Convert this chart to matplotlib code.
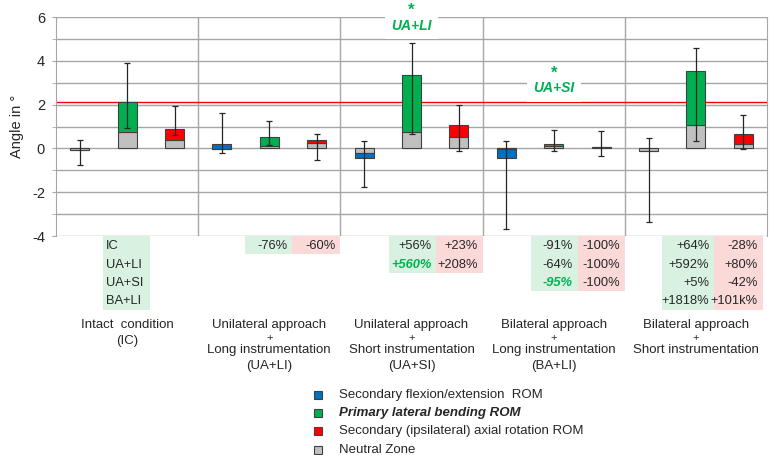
import numpy as np
import matplotlib.pyplot as plt
from matplotlib.patches import Rectangle
from matplotlib.transforms import blended_transform_factory

plt.rcParams['font.family'] = ['Liberation Sans', 'DejaVu Sans']
plt.rcParams['axes.unicode_minus'] = False

group_lines = [
    ['Intact  condition', '(IC)'],
    ['Unilateral approach', '+', 'Long instrumentation', '(UA+LI)'],
    ['Unilateral approach', '+', 'Short instrumentation', '(UA+SI)'],
    ['Bilateral approach', '+', 'Long instrumentation', '(BA+LI)'],
    ['Bilateral approach', '+', 'Short instrumentation'],
]

# secondary flexion/extension (blue)
nz_fe = [-0.08, -0.05, -0.23, -0.05, -0.11]
rom_fe = [-0.08, 0.20, -0.46, -0.43, -0.11]
lo_fe = [-0.75, -0.23, -1.78, -3.70, -3.35]
hi_fe = [0.40, 1.60, 0.35, 0.35, 0.47]

# primary lateral bending (green)
nz_lb = [0.73, 0.11, 0.76, 0.12, 1.07]
rom_lb = [2.13, 0.52, 3.35, 0.19, 3.55]
lo_lb = [0.94, 0.15, 0.64, -0.10, 0.32]
hi_lb = [3.90, 1.23, 4.81, 0.85, 4.57]

# secondary axial rotation (red)
nz_ar = [0.38, 0.23, 0.50, 0.08, 0.18]
rom_ar = [0.88, 0.37, 1.07, 0.08, 0.65]
lo_ar = [0.61, -0.53, -0.11, -0.33, -0.03]
hi_ar = [1.95, 0.68, 1.96, 0.81, 1.54]

compare_names = ['IC', 'UA+LI', 'UA+SI', 'BA+LI']
pct_lb = [[], ['-76%'], ['+56%', '+560%'], ['-91%', '-64%', '-95%'],
          ['+64%', '+592%', '+5%', '+1818%']]
pct_ar = [[], ['-60%'], ['+23%', '+208%'], ['-100%', '-100%', '-100%'],
          ['-28%', '+80%', '-42%', '+101k%']]
signif = [(2, 1), (3, 2)]  # (group, row) highlighted changes

legend_labels = ['Secondary flexion/extension  ROM', 'Primary lateral bending ROM',
                 'Secondary (ipsilateral) axial rotation ROM', 'Neutral Zone']

GRAY = '#c0c0c0'
BLUE = '#0070c0'
GREEN = '#00b050'
RED = '#ff0000'
LGREEN = '#d8f1e1'
PINK = '#fbd9d9'
TXT = '#262626'
GRID = '#a6a6a6'

W, H = 770, 455
fig = plt.figure(figsize=(7.7, 4.55), dpi=100)
ax = fig.add_axes([56 / W, 1 - 236 / H, (767 - 56) / W, (236 - 17) / H])

idx = np.arange(5)
bw = 0.135
series = [(nz_fe, rom_fe, lo_fe, hi_fe, BLUE, 1 / 6),
          (nz_lb, rom_lb, lo_lb, hi_lb, GREEN, 0.5),
          (nz_ar, rom_ar, lo_ar, hi_ar, RED, 5 / 6)]
for nz, rom, lo, hi, col, off in series:
    nz, rom, lo, hi = map(np.array, (nz, rom, lo, hi))
    x = idx + off
    ax.bar(x, nz, bw, color=GRAY, edgecolor='#404040', lw=0.8, zorder=2)
    ax.bar(x, rom - nz, bw, bottom=nz, color=col, edgecolor='#404040', lw=0.8, zorder=2)
    ax.errorbar(x, rom, yerr=[rom - lo, hi - rom], fmt='none', ecolor=TXT,
                elinewidth=0.9, capsize=2, capthick=0.9, zorder=3)

ax.axhline(rom_lb[0], color=RED, lw=1, zorder=1)

ax.set_xlim(0, 5)
ax.set_ylim(-4, 6)
ax.set_xticks([])
ax.set_yticks(range(-4, 7, 2))
ax.set_yticks(range(-3, 6, 2), minor=True)
ax.set_axisbelow(True)
ax.grid(axis='y', which='both', color=GRID, lw=1)
for g in range(1, 5):
    ax.axvline(g, color=GRID, lw=1, zorder=0.5)
ax.spines['top'].set_visible(False)
ax.spines['bottom'].set_visible(False)
for s in ['left', 'right']:
    ax.spines[s].set_color(GRID)
ax.tick_params(axis='y', which='both', length=3, color=GRID, labelsize=10.5,
               labelcolor=TXT, pad=5)
ax.set_ylabel('Angle in °', fontsize=10.5, color=TXT, labelpad=6)

# significance marks: star first, label box drawn over the star's lower box
star_kw = dict(ha='center', va='baseline', color=GREEN, fontsize=12, fontweight='bold',
               clip_on=False, zorder=4, bbox=dict(fc='white', ec='none', boxstyle='square,pad=0.1'))
lab_kw = dict(ha='center', va='center', color=GREEN, fontsize=10, fontweight='bold',
              fontstyle='italic', clip_on=False, zorder=5,
              bbox=dict(fc='white', ec='none', boxstyle='square,pad=0.45'))
ax.text(2.5, 6.11, '*', **star_kw)
ax.text(2.5, 5.60, 'UA+LI', **lab_kw)
ax.text(3.5, 3.23, '*', **star_kw)
ax.text(3.5, 2.74, 'UA+SI', **lab_kw)

# percentage table under the axis
trans = blended_transform_factory(ax.transData, fig.transFigure)
green_cells = [(0.33, 0.66), (0.33, 0.66), (0.34, 0.675), (0.34, 0.67), (0.26, 0.63)]
pink_cells = [(0.66, 1.0), (0.66, 1.0), (0.675, 1.0), (0.67, 1.0), (0.63, 0.97)]
row_top, row_h = 236, 18.4


def cell(g, r, edges, color):
    y0 = row_top + r * row_h
    fig.add_artist(Rectangle((g + edges[0], 1 - (y0 + row_h) / H), edges[1] - edges[0],
                             row_h / H, transform=trans, fc=color, ec='none', zorder=1))
    return 1 - (y0 + row_h / 2 + 1) / H


for r, name in enumerate(compare_names):
    yc = cell(0, r, green_cells[0], LGREEN)
    fig.text(green_cells[0][0] + 0.02, yc, name, transform=trans, ha='left', va='center',
             fontsize=9.3, color=TXT)

for g in range(1, 5):
    for vals, edges, col in [(pct_lb[g], green_cells[g], LGREEN), (pct_ar[g], pink_cells[g], PINK)]:
        for r, v in enumerate(vals):
            yc = cell(g, r, edges, col)
            kw = dict(fontsize=9.3, color=TXT)
            if col == LGREEN and (g, r) in signif:
                kw = dict(fontsize=9.3, color=GREEN, fontweight='bold', fontstyle='italic')
            fig.text(g + edges[1] - 0.035, yc, v, transform=trans, ha='right', va='center', **kw)

# group labels
for g, lines in enumerate(group_lines):
    y = 325
    for i, line in enumerate(lines):
        fig.text(g + 0.5, 1 - y / H, line, transform=trans, ha='center', va='center',
                 fontsize=9.5 if line != '+' else 8, color=TXT)
        nxt = lines[i + 1] if i + 1 < len(lines) else ''
        y += 12.5 if (line == '+' or nxt == '+') else 16

# legend
for i, (lab, col) in enumerate(zip(legend_labels, [BLUE, GREEN, RED, GRAY])):
    yc = 395 + i * 18.2
    fig.add_artist(Rectangle((314 / W, 1 - (yc + 4) / H), 8 / W, 8 / H,
                             transform=fig.transFigure, fc=col, ec='#404040', lw=0.8))
    kw = dict(fontweight='bold', fontstyle='italic') if i == 1 else {}
    fig.text(339 / W, 1 - yc / H, lab, ha='left', va='center', fontsize=9.5, color=TXT, **kw)

fig.savefig('out.png', dpi=100)
